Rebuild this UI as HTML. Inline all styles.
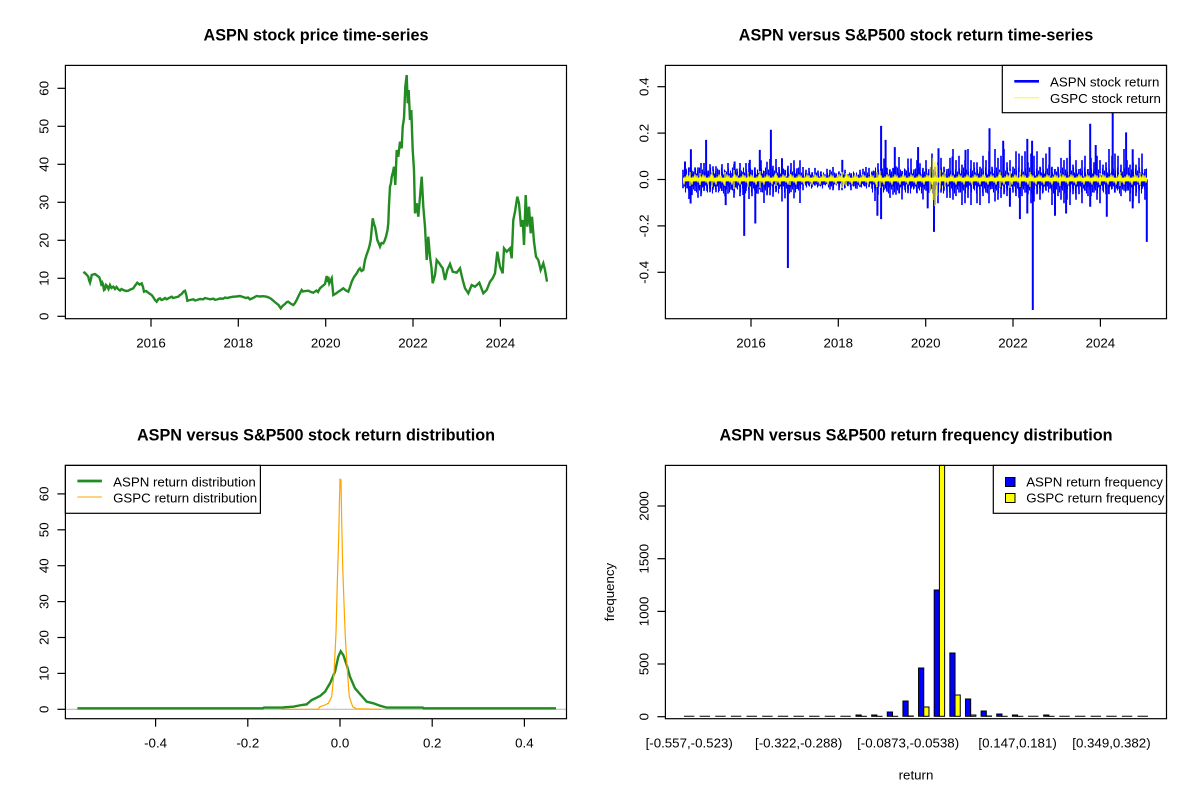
<!DOCTYPE html>
<html>
<head>
<meta charset="utf-8">
<style>
html,body{margin:0;padding:0;background:#fff;}
svg{display:block;}
text{font-family:"Liberation Sans",Arial,sans-serif;font-size:13.3px;fill:#000;}
.t{font-weight:bold;font-size:16.2px;}
</style>
</head>
<body>
<svg width="1200" height="800" viewBox="0 0 1200 800" xmlns="http://www.w3.org/2000/svg">
<defs>
<pattern id="bp" patternUnits="userSpaceOnUse" x="0" y="159.5" width="11" height="40">
<path stroke="#0000FF" stroke-width="1.1" fill="none" d="M0.5 12V30M1.5 16V26M2.5 9V27M3.5 14V33M4.5 11V25M5.5 17V29M6.5 8V31M7.5 13V26M8.5 15V34M9.5 10V28M10.5 14V27"/>
</pattern>
<pattern id="bp2" patternUnits="userSpaceOnUse" x="0" y="159.5" width="11" height="40">
<path stroke="#0000FF" stroke-width="1.1" fill="none" d="M0.5 15V26M1.5 17V24M2.5 13V25M3.5 16V28M4.5 14V24M5.5 17V26M6.5 12V27M7.5 15V24M8.5 16V29M9.5 13V25M10.5 16V25"/>
</pattern>
<pattern id="yp" patternUnits="userSpaceOnUse" x="0" y="169.5" width="8" height="20">
<path stroke="#FFFF00" stroke-width="1.1" fill="none" d="M0 12L1 6L2 13L3 8L4 15L5 7L6 12L7 5L8 12"/>
</pattern>
</defs>
<rect x="0" y="0" width="1200" height="800" fill="#fff"/>

<!-- ================= TOP LEFT: price ================= -->
<text class="t" x="316" y="40.7" text-anchor="middle">ASPN stock price time-series</text>
<polyline fill="none" stroke="#228B22" stroke-width="2.4" stroke-linejoin="miter" points="83.3,273.3 84.5,272.5 86,274 88.3,276.7 89,280 90,282.7 91,279 91.7,275 93,274.5 95,274 97,275.5 99.3,277.3 100.5,281 101.7,286 102.5,283 103,284 104,290 105,289.3 106,285 107,286 108.5,289 110,285 111.5,288 113.3,286.7 115,289 116.5,287 118.3,289.3 120,290.5 121.5,289 123.3,290 126,291 128.3,290.7 130.5,289.5 133.3,288.3 135.5,285 137.3,282.7 139.5,284.5 141.7,283.3 143,287 144,291.7 146,291 148.3,292.7 150,294 151.7,295 153.5,297.5 155,300 156.7,301.7 158.5,299 160,298.3 161.5,300 163,299.5 165,298 166.7,299.3 169,298 171.7,296.7 173,298 175,297.5 178.3,296.7 180,295 181.7,294 183.5,291.5 185,290.7 186.3,295 187.3,300.7 190,300 193.3,299.3 195,300.5 197,300 200,299 203.3,299.3 205,298 207,298.5 210,299.3 213.3,298.7 215,299.8 217,299.5 220,298.5 223.3,298.7 225,297.5 227,298 230,297.3 233.3,296.7 236.5,296.5 240,296 243,297 246,298 248,297.5 250,299.3 253,298 256.7,296 260,296.5 263,296.2 266.7,296.7 270,298 273.3,300.7 276,303 278.5,305 280.7,308.3 282.5,306 285,304 287,302 288.3,301.7 290.5,303.5 293.3,305 295,303 296.7,300 299,295 301.7,290 303,291.5 305,291 308.3,290.7 311,292 313.3,292.7 316.5,290.5 318,292 320,288.3 322,286.5 325,284 326.7,276 328,282 328.3,276.7 329.3,283.3 331.7,278.3 333.3,295 336,293.5 338.3,291.7 341,290 343.3,288.3 346,290.5 348.3,291.7 350,287 351.7,281.7 354,277 356.7,273.3 358.5,270 360,268.3 361.5,271 363.3,270 365,260 366.5,255 368.3,250 369.5,246 370.7,240 372.7,218.3 374,224 375,226.7 376,232 377.3,240 379,244 380,246.7 381.5,243 383.3,243.3 384.5,241 386,236.7 387.5,230 388.3,223.3 389,205 390,186.7 391,183 391.7,176.7 393,172 394,166.7 395.3,185 396.7,150 398.3,156.7 400,141.7 401.7,148.3 402.7,126.7 404,118.3 405.3,86.7 406.7,75 407.7,103.3 408.7,90 410,120 411.3,110 412.7,150 414,170 415,213.3 416.7,203.3 418.3,216.7 420,196.7 421.7,176.7 423.3,206.7 425,226.7 426.7,260 428.3,236.7 430,256.7 431.5,268 432.7,283.3 435,275 436.7,260 439.3,263.3 441,266 442.7,268.3 445,280 447.3,270 450,264 452.7,271.7 456.7,272.7 460,268.3 462.7,280 465,288.3 468.3,293.3 471.7,285 475,286.7 479.3,282.7 483.3,293.3 486.7,290 490,281.7 492.7,278.3 495,273.3 497.3,251.7 500,266.7 502.7,273.3 504,248.3 506.7,251.7 510,248.3 511.7,258.3 513.3,220 515,211.7 517.3,196.7 519,203.3 521,226.7 522.7,220 524,245 525.7,195 527.3,226.7 529,206.7 530.7,233.3 532,216.7 534,241.7 536,256.7 538.3,260 540.7,270 543.3,263.3 545,270 547,281.7"/>
<rect x="65.4" y="65.4" width="501.1" height="253.3" fill="none" stroke="#000" stroke-width="1.2"/>
<g stroke="#000" stroke-width="1.2">
<line x1="57.4" y1="316.3" x2="65.4" y2="316.3"/><line x1="57.4" y1="278.3" x2="65.4" y2="278.3"/><line x1="57.4" y1="240.3" x2="65.4" y2="240.3"/><line x1="57.4" y1="202.3" x2="65.4" y2="202.3"/><line x1="57.4" y1="164.3" x2="65.4" y2="164.3"/><line x1="57.4" y1="126.3" x2="65.4" y2="126.3"/><line x1="57.4" y1="88.3" x2="65.4" y2="88.3"/>
<line x1="151" y1="318.7" x2="151" y2="326.7"/><line x1="238.3" y1="318.7" x2="238.3" y2="326.7"/><line x1="325.7" y1="318.7" x2="325.7" y2="326.7"/><line x1="413" y1="318.7" x2="413" y2="326.7"/><line x1="500.4" y1="318.7" x2="500.4" y2="326.7"/>
</g>
<g text-anchor="middle">
<text transform="translate(48.5,316.3) rotate(-90)">0</text>
<text transform="translate(48.5,278.3) rotate(-90)">10</text>
<text transform="translate(48.5,240.3) rotate(-90)">20</text>
<text transform="translate(48.5,202.3) rotate(-90)">30</text>
<text transform="translate(48.5,164.3) rotate(-90)">40</text>
<text transform="translate(48.5,126.3) rotate(-90)">50</text>
<text transform="translate(48.5,88.3) rotate(-90)">60</text>
<text x="151" y="347.5">2016</text><text x="238.3" y="347.5">2018</text><text x="325.7" y="347.5">2020</text><text x="413" y="347.5">2022</text><text x="500.4" y="347.5">2024</text>
</g>

<!-- ================= TOP RIGHT: returns ================= -->
<text class="t" x="916" y="40.7" text-anchor="middle">ASPN versus S&amp;P500 stock return time-series</text>
<rect x="683" y="159.5" width="117" height="40" fill="url(#bp)"/>
<rect x="800" y="159.5" width="72" height="40" fill="url(#bp2)"/>
<rect x="872" y="159.5" width="275" height="40" fill="url(#bp)"/>
<path fill="none" stroke="#0000FF" stroke-width="1.6" d="M683 169.7V188.3M686 168.6V188.3M689 167.4V199M692 170.8V195M695 167.4V191M698 167.4V197.7M701 163V196.3M704 163V191M707 170.8V191M710 164.1V192.3M713 166.3V189.7M716 166.3V192.3M719 169.7V191M722 164.1V191M725 170.8V196.3M728 163V193.7M731 173V189.7M734 164.1V197.7M737 168.6V188.3M740 163V196.3M743 171.9V195M746 163V191M749 163V199M752 169.7V196.3M755 167.4V188.3M758 173V193.7M761 160.3V192.1M764 171V203M767 161.7V195.2M770 159V195.2M773 165.7V196.8M776 159V192.1M779 167V189M782 161.7V201.5M785 169.7V198.4M788 165.7V189M791 163V192.1M794 160.3V198.4M797 168.3V189M800 160.3V203M803 167V190.2M806 169.7V185.6M809 167.9V184M812 172.3V187.1M815 167.9V185.6M818 170.6V186.3M821 171.4V185.6M824 174.1V184.8M827 168.8V184M830 169.7V189.5M833 167V190.2M836 173.2V184.8M839 171.4V190.2M842 175V190.2M845 169.7V187.9M848 174.1V186.3M851 173.2V190.2M854 173.2V186.3M857 175V188.7M860 169.7V187.1M863 168.8V184M866 167V186.3M869 167.9V187.1M872 171.4V188.7M875 171V201M878 163.2V194.8M881 171V194.8M884 158.5V190.1M887 167.9V191.7M890 169.4V197.9M893 167.9V194.8M896 166.3V194.8M899 157V193.2M902 171V199.5M905 169.4V190.1M908 158.5V193.2M911 158.5V188.6M914 169.4V188.6M917 160.1V193.2M920 163.2V187M923 167.9V199.5M926 160.1V190.8M929 169V192.6M932 153.5V189M935 166.8V205M938 162.3V203.2M941 157.9V192.6M944 166.8V190.8M947 169V197.9M950 157.9V197.9M953 149V199.7M956 160.1V196.1M959 155.7V192.6M962 164.6V205M965 160.1V203.2M968 149V197.9M971 160.1V205M974 162.3V189M977 162.3V203.2M980 166.8V205M983 155.7V196.1M986 160.1V192.6M989 151.2V203.2M992 166.8V189M995 149V201.5M998 157.9V199.7M1001 155.7V197.9M1004 149V194.3M1007 162.3V196.1M1010 160.1V199.7M1013 166.8V192.6M1016 151.2V196.1M1019 153.5V197.9M1022 155.7V196.1M1025 151.2V192.6M1028 162.3V194.3M1031 153.5V203.2M1034 155.7V201.5M1037 151.2V194.3M1040 166.8V199.7M1043 157.9V192.6M1046 153.5V190.8M1049 164.6V189M1052 166.8V205M1055 169V205M1058 166.8V196.1M1061 157.9V199.7M1064 160.1V203.2M1067 157.9V199.7M1070 155.7V205M1073 164.6V194.3M1076 160.1V199.7M1079 169V194.3M1082 160.1V203.2M1085 155.7V190.8M1088 169V196.1M1091 157.9V196.1M1094 162.3V192.6M1097 155.7V199.7M1100 160.1V203.2M1103 164.6V190.8M1106 162.3V194.3M1109 149V194.3M1112 155.7V189M1115 153.5V192.6M1118 155.7V189M1121 164.6V196.1M1124 149V190.8M1127 160.1V190.8M1130 164.6V201.5M1133 162.3V201.5M1136 164.6V196.1M1139 157.9V203.2M1142 153.5V189M1145 169V199.7"/>
<path fill="none" stroke="#0000FF" stroke-width="2" d="M685 179.5V161.5M690.9 179.5V149.2M706.1 179.5V139.9M734.6 179.5V161.5M749.8 179.5V159.9M759.8 179.5V149.9M770.9 179.5V129.8M782 179.5V158.3M842.3 179.5V159.9M881.1 179.5V125.9M885.6 179.5V139.9M894.8 179.5V147.1M918.1 179.5V147.1M938.5 179.5V148.2M952.5 179.5V156.6M965.5 179.5V149.9M989.5 179.5V128.2M1003.2 179.5V140.8M1027.3 179.5V138.9M1032.1 179.5V140.8M1049.5 179.5V147.1M1069.8 179.5V139.9M1090.2 179.5V123.8M1095.7 179.5V145M1112.7 179.5V111.4M1126.1 179.5V132.4M1132.7 179.5V149.2M690.6 179.5V203.5M725.7 179.5V205.1M744.2 179.5V235.9M755.3 179.5V223.5M787.9 179.5V268M877.4 179.5V215.8M881.1 179.5V219.1M927.7 179.5V208.4M934 179.5V231.9M1009.9 179.5V206.7M1019.9 179.5V219.1M1027.3 179.5V213.5M1032.8 179.5V310M1055 179.5V215.8M1066.1 179.5V213.5M1090.2 179.5V206.7M1106.8 179.5V216.7M1132.7 179.5V208.4M1146.8 179.5V241.9"/>
<rect x="683" y="169.5" width="464" height="20" fill="url(#yp)"/>
<rect x="683" y="178" width="464" height="3" fill="#FFFF00"/>
<path fill="none" stroke="#FFFF00" stroke-width="1.2" d="M690 172V186M700 173V185M712 171V187M725 172V186M734 170V189M748 172V187M760 171V188M776 173V186M790 174V185M842 172V188M846 173V186M877 172V187M880 171V188M930 168V192M933 158V200M935 162V206M937 165V196M940 170V189M945 172V187M1000 172V187M1010 171V188M1020 172V187M1030 172V187M1060 173V186M1100 173V185M1120 172V186M1140 173V185"/>
<rect x="665.4" y="65.4" width="501.1" height="253.3" fill="none" stroke="#000" stroke-width="1.2"/>
<g stroke="#000" stroke-width="1.2">
<line x1="657.4" y1="86.7" x2="665.4" y2="86.7"/><line x1="657.4" y1="133.1" x2="665.4" y2="133.1"/><line x1="657.4" y1="179.5" x2="665.4" y2="179.5"/><line x1="657.4" y1="225.9" x2="665.4" y2="225.9"/><line x1="657.4" y1="272.3" x2="665.4" y2="272.3"/>
<line x1="751" y1="318.7" x2="751" y2="326.7"/><line x1="838.3" y1="318.7" x2="838.3" y2="326.7"/><line x1="925.7" y1="318.7" x2="925.7" y2="326.7"/><line x1="1013" y1="318.7" x2="1013" y2="326.7"/><line x1="1100.4" y1="318.7" x2="1100.4" y2="326.7"/>
</g>
<g text-anchor="middle">
<text transform="translate(648.5,86.7) rotate(-90)">0.4</text>
<text transform="translate(648.5,133.1) rotate(-90)">0.2</text>
<text transform="translate(648.5,179.5) rotate(-90)">0.0</text>
<text transform="translate(648.5,225.9) rotate(-90)">-0.2</text>
<text transform="translate(648.5,272.3) rotate(-90)">-0.4</text>
<text x="751" y="347.5">2016</text><text x="838.3" y="347.5">2018</text><text x="925.7" y="347.5">2020</text><text x="1013" y="347.5">2022</text><text x="1100.4" y="347.5">2024</text>
</g>
<rect x="1002.3" y="65.4" width="164.2" height="47.3" fill="#fff" stroke="#000" stroke-width="1.2"/>
<line x1="1014.3" y1="81.3" x2="1039" y2="81.3" stroke="#0000FF" stroke-width="2.7"/>
<line x1="1014.3" y1="97.7" x2="1039" y2="97.7" stroke="#FFFF00" stroke-width="1"/>
<text x="1050" y="86.5">ASPN stock return</text>
<text x="1050" y="102.8">GSPC stock return</text>

<!-- ================= BOTTOM LEFT: density ================= -->
<text class="t" x="316" y="440.7" text-anchor="middle">ASPN versus S&amp;P500 stock return distribution</text>
<line x1="65.4" y1="709.3" x2="566.5" y2="709.3" stroke="#BEBEBE" stroke-width="1.2"/>
<polyline fill="none" stroke="#228B22" stroke-width="2.4" points="77.4,708.3 263,708.3 264,707.6 283,707.6 284,707.3 293.3,706.7 301.7,705 306.7,704.3 311.7,700 316,698 320,696 325,691.7 330,683.3 335,671.7 338.3,656.7 340.7,651.3 343.3,655 346.7,665 350,676.7 355,688.3 361.7,696 366.7,701.7 373.3,703.3 380,705.7 386.7,707.6 422.8,707.6 423.5,708.3 556,708.3"/>
<polyline fill="none" stroke="#FFA500" stroke-width="1.2" points="281,709.3 318,709.3 320,706.7 324,705.5 328.3,703.3 331.7,696.7 334,673.3 336,633.3 337.3,583.3 338.7,536.7 339.3,508.3 340,479.3 341,480 341.7,521.7 342.7,566.7 344,603.3 345.3,636.7 347.3,670 349.3,696.7 352.7,706.7 356,708.7 381,709.3"/>
<rect x="65.4" y="465.4" width="501.1" height="253.3" fill="none" stroke="#000" stroke-width="1.2"/>
<g stroke="#000" stroke-width="1.2">
<line x1="57.4" y1="709.3" x2="65.4" y2="709.3"/><line x1="57.4" y1="673.4" x2="65.4" y2="673.4"/><line x1="57.4" y1="637.5" x2="65.4" y2="637.5"/><line x1="57.4" y1="601.6" x2="65.4" y2="601.6"/><line x1="57.4" y1="565.7" x2="65.4" y2="565.7"/><line x1="57.4" y1="529.8" x2="65.4" y2="529.8"/><line x1="57.4" y1="493.9" x2="65.4" y2="493.9"/>
<line x1="155.6" y1="718.7" x2="155.6" y2="726.7"/><line x1="247.8" y1="718.7" x2="247.8" y2="726.7"/><line x1="340" y1="718.7" x2="340" y2="726.7"/><line x1="432.2" y1="718.7" x2="432.2" y2="726.7"/><line x1="524.4" y1="718.7" x2="524.4" y2="726.7"/>
</g>
<g text-anchor="middle">
<text transform="translate(48.5,709.3) rotate(-90)">0</text>
<text transform="translate(48.5,673.4) rotate(-90)">10</text>
<text transform="translate(48.5,637.5) rotate(-90)">20</text>
<text transform="translate(48.5,601.6) rotate(-90)">30</text>
<text transform="translate(48.5,565.7) rotate(-90)">40</text>
<text transform="translate(48.5,529.8) rotate(-90)">50</text>
<text transform="translate(48.5,493.9) rotate(-90)">60</text>
<text x="155.6" y="747.5">-0.4</text><text x="247.8" y="747.5">-0.2</text><text x="340" y="747.5">0.0</text><text x="432.2" y="747.5">0.2</text><text x="524.4" y="747.5">0.4</text>
</g>
<rect x="65.4" y="465.4" width="195" height="47.9" fill="#fff" stroke="#000" stroke-width="1.2"/>
<line x1="77.4" y1="481" x2="101.9" y2="481" stroke="#228B22" stroke-width="2.7"/>
<line x1="77.4" y1="497" x2="101.9" y2="497" stroke="#FFA500" stroke-width="1"/>
<text x="113.1" y="486.5">ASPN return distribution</text>
<text x="113.1" y="502.5">GSPC return distribution</text>

<!-- ================= BOTTOM RIGHT: barplot ================= -->
<text class="t" x="916" y="440.7" text-anchor="middle">ASPN versus S&amp;P500 return frequency distribution</text>
<g stroke="#000" stroke-width="1">
<path fill="none" d="M683.96 716.3h10.43M699.6 716.3h10.43M715.24 716.3h10.43M730.88 716.3h10.43M746.52 716.3h10.43M762.16 716.3h10.43M777.8 716.3h10.43M793.44 716.3h10.43M809.08 716.3h10.43M824.72 716.3h10.43M840.36 716.3h10.43M1028.03 716.3h10.43M1059.31 716.3h10.43M1074.95 716.3h10.43M1090.59 716.3h10.43M1106.23 716.3h10.43M1121.87 716.3h10.43M1137.51 716.3h10.43"/>
<g fill="#0000FF">
<rect x="856" y="715" width="5.21" height="1.3"/>
<rect x="871.64" y="715" width="5.21" height="1.3"/>
<rect x="887.28" y="712" width="5.21" height="4.3"/>
<rect x="902.92" y="701" width="5.21" height="15.3"/>
<rect x="918.55" y="668" width="5.21" height="48.3"/>
<rect x="934.19" y="590" width="5.21" height="126.3"/>
<rect x="949.83" y="653" width="5.21" height="63.3"/>
<rect x="965.47" y="699" width="5.21" height="17.3"/>
<rect x="981.11" y="711" width="5.21" height="5.3"/>
<rect x="996.75" y="714" width="5.21" height="2.3"/>
<rect x="1012.39" y="715" width="5.21" height="1.3"/>
<rect x="1043.67" y="715" width="5.21" height="1.3"/>
</g>
<g fill="#FFFF00">
<rect x="861.21" y="716.3" width="5.21" height="0.01"/>
<rect x="876.85" y="716.3" width="5.21" height="0.01"/>
<rect x="892.49" y="716.3" width="5.21" height="0.01"/>
<rect x="908.13" y="716" width="5.21" height="0.3"/>
<rect x="923.76" y="707" width="5.21" height="9.3"/>
<rect x="939.4" y="465.4" width="5.21" height="250.9"/>
<rect x="955.04" y="695" width="5.21" height="21.3"/>
<rect x="970.68" y="715" width="5.21" height="1.3"/>
<rect x="986.32" y="716" width="5.21" height="0.3"/>
<rect x="1001.96" y="716.3" width="5.21" height="0.01"/>
<rect x="1017.6" y="716.3" width="5.21" height="0.01"/>
<rect x="1048.88" y="716.3" width="5.21" height="0.01"/>
</g>
</g>
<rect x="665.4" y="465.4" width="501.1" height="253.3" fill="none" stroke="#000" stroke-width="1.2"/>
<g stroke="#000" stroke-width="1.2">
<line x1="657.4" y1="716.7" x2="665.4" y2="716.7"/><line x1="657.4" y1="664" x2="665.4" y2="664"/><line x1="657.4" y1="611.4" x2="665.4" y2="611.4"/><line x1="657.4" y1="558.7" x2="665.4" y2="558.7"/><line x1="657.4" y1="506" x2="665.4" y2="506"/>
</g>
<g text-anchor="middle">
<text transform="translate(648.5,716.7) rotate(-90)">0</text>
<text transform="translate(648.5,664) rotate(-90)">500</text>
<text transform="translate(648.5,611.4) rotate(-90)">1000</text>
<text transform="translate(648.5,558.7) rotate(-90)">1500</text>
<text transform="translate(648.5,506) rotate(-90)">2000</text>
<text x="689.2" y="747.5">[-0.557,-0.523)</text>
<text x="798.65" y="747.5">[-0.322,-0.288)</text>
<text x="908.13" y="747.5">[-0.0873,-0.0538)</text>
<text x="1017.6" y="747.5">[0.147,0.181)</text>
<text x="1111.44" y="747.5">[0.349,0.382)</text>
<text x="916" y="779.5">return</text>
<text transform="translate(614,592) rotate(-90)">frequency</text>
</g>
<rect x="993.3" y="465.4" width="173.2" height="47.9" fill="#fff" stroke="#000" stroke-width="1.2"/>
<rect x="1005.5" y="477.5" width="9.5" height="9" fill="#0000FF" stroke="#000" stroke-width="1"/>
<rect x="1005.5" y="493.5" width="9.5" height="9" fill="#FFFF00" stroke="#000" stroke-width="1"/>
<text x="1026.2" y="486.3">ASPN return frequency</text>
<text x="1026.2" y="502.3">GSPC return frequency</text>
</svg>
</body>
</html>
